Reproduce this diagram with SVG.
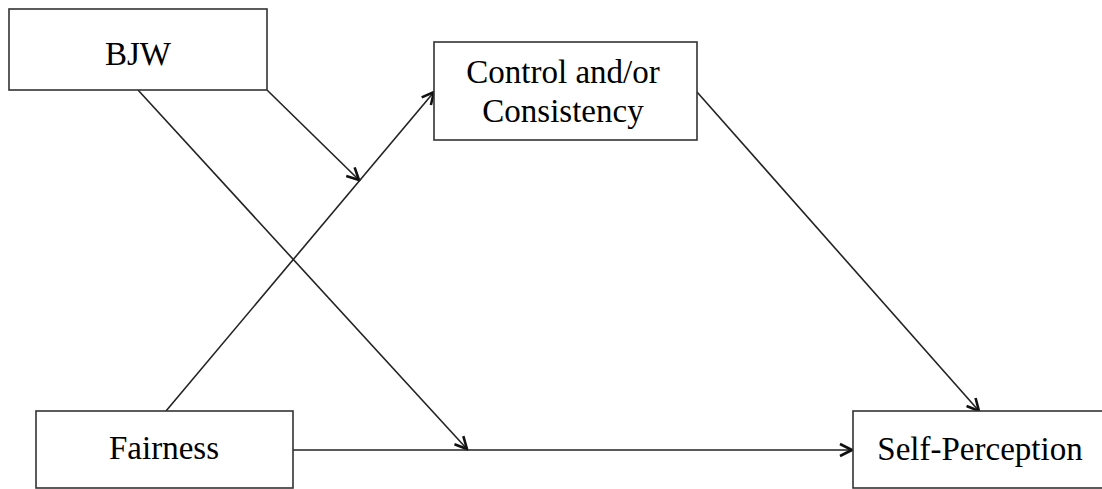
<svg xmlns="http://www.w3.org/2000/svg" width="1102" height="489" viewBox="0 0 1102 489">
<defs>
<marker id="arr" viewBox="0 0 16 16" refX="14" refY="8" markerWidth="16" markerHeight="16" markerUnits="userSpaceOnUse" orient="auto">
<path d="M2,2 L14,8 L2,14" fill="none" stroke="#111" stroke-width="2.6" stroke-linejoin="miter"/>
</marker>
<style>
.box{fill:#fff;stroke:#333;stroke-width:1.6}
.lbl{font-family:"Liberation Serif","Times New Roman",serif;font-size:33px;fill:#000;text-anchor:middle}
.c{stroke:#222;stroke-width:1.6;fill:none;marker-end:url(#arr)}
</style>
</defs>
<rect width="1102" height="489" fill="#fff"/>
<g id="connectors">
<line class="c" x1="267" y1="90" x2="359" y2="180"/>
<line class="c" x1="166" y1="411" x2="434" y2="92"/>
<line class="c" x1="138" y1="90" x2="467" y2="449"/>
<line class="c" x1="697" y1="92" x2="979" y2="411"/>
<line class="c" x1="293" y1="450" x2="852" y2="450"/>
</g>
<g id="bjw">
<rect class="box" x="9" y="9" width="258" height="81"/>
<text class="lbl" x="138" y="65">BJW</text>
</g>
<g id="control">
<rect class="box" x="434" y="42" width="263" height="98"/>
<text class="lbl" x="563" y="83">Control and/or</text>
<text class="lbl" x="563" y="122">Consistency</text>
</g>
<g id="fairness">
<rect class="box" x="36" y="411" width="257" height="77"/>
<text class="lbl" x="164" y="459">Fairness</text>
</g>
<g id="self">
<rect class="box" x="853" y="411" width="260" height="77"/>
<text class="lbl" x="980" y="460">Self-Perception</text>
</g>
</svg>
